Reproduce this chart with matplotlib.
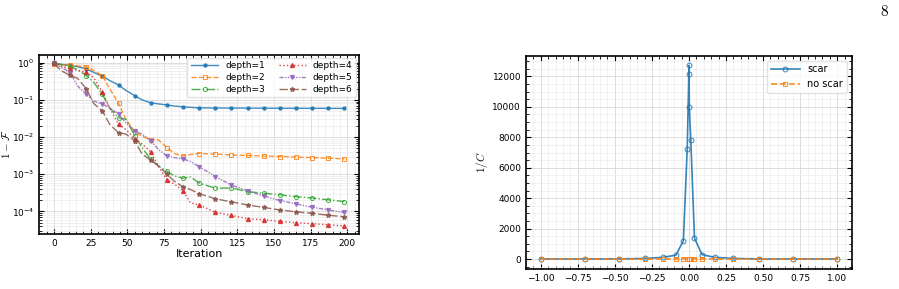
import numpy as np
import matplotlib.pyplot as plt
from matplotlib.ticker import MultipleLocator, AutoMinorLocator

# iteraciones donde se leyeron los valores
iters = [0, 5, 11, 16, 22, 27, 33, 38, 44, 49, 55, 60, 66, 71, 77, 82, 88, 93, 99,
         110, 121, 132, 143, 154, 165, 176, 187, 198]

depth1 = [0.97, 0.9, 0.85, 0.78, 0.68, 0.55, 0.43, 0.33, 0.25, 0.18, 0.13, 0.1, 0.083, 0.078,
          0.073, 0.068, 0.065, 0.063, 0.061, 0.0605, 0.0603, 0.06, 0.0598, 0.0596, 0.0594,
          0.0593, 0.0592, 0.059]
depth2 = [0.92, 0.88, 0.85, 0.82, 0.78, 0.62, 0.44, 0.2, 0.08, 0.03, 0.014, 0.0105, 0.0085,
          0.0085, 0.0052, 0.0036, 0.0031, 0.0034, 0.0036, 0.0035, 0.0033, 0.0032, 0.0031,
          0.003, 0.0029, 0.0028, 0.0027, 0.0026]
depth3 = [0.95, 0.88, 0.78, 0.65, 0.45, 0.3, 0.14, 0.06, 0.033, 0.03, 0.011, 0.0052, 0.0025,
          0.0017, 0.0012, 9e-4, 7.9e-4, 8.5e-4, 5.8e-4, 4.2e-4, 4.3e-4, 3.4e-4, 3.1e-4,
          2.8e-4, 2.5e-4, 2.3e-4, 2.05e-4, 1.85e-4]
depth4 = [0.95, 0.8, 0.68, 0.62, 0.55, 0.4, 0.16, 0.06, 0.022, 0.016, 0.009, 0.0065, 0.004,
          0.0017, 7e-4, 5.5e-4, 3.6e-4, 1.7e-4, 1.5e-4, 9.5e-5, 7.8e-5, 6.4e-5, 6e-5,
          5.4e-5, 5e-5, 4.7e-5, 4.4e-5, 4.1e-5]
depth5 = [0.95, 0.75, 0.54, 0.24, 0.14, 0.094, 0.076, 0.062, 0.041, 0.024, 0.0146, 0.012,
          0.008, 0.0047, 0.0031, 0.0028, 0.0026, 0.0022, 0.0016, 8.7e-4, 5.1e-4, 3.6e-4,
          2.6e-4, 1.96e-4, 1.6e-4, 1.3e-4, 1.1e-4, 9.4e-5]
depth6 = [0.95, 0.6, 0.46, 0.38, 0.2, 0.08, 0.05, 0.022, 0.013, 0.012, 0.008, 0.0035, 0.0024,
          0.0017, 0.001, 6.5e-4, 4.6e-4, 3.9e-4, 3e-4, 2.2e-4, 1.8e-4, 1.5e-4, 1.28e-4,
          1.1e-4, 9.8e-5, 8.9e-5, 7.9e-5, 7.2e-5]
depth_labels = ['depth=1', 'depth=2', 'depth=3', 'depth=4', 'depth=5', 'depth=6']

# datos del panel derecho
e_sc = [-1.0, -0.7, -0.47, -0.3, -0.175, -0.088, -0.038, -0.012, -0.001, 0.0, 0.002,
        0.012, 0.037, 0.088, 0.175, 0.3, 0.47, 0.7, 1.0]
scar = [3, 5, 10, 40, 110, 260, 1200, 7240, 12180, 12725, 9990, 7850, 1380, 290, 110, 40,
        10, 5, 3]
no_scar = [1, 1, 2, 3, 5, 8, 12, 15, 16, 16, 16, 15, 12, 8, 5, 3, 2, 1, 1]

marks = [i for i, t in enumerate(iters) if t % 11 == 0]

fig = plt.figure(figsize=(8.99, 2.89), dpi=100)
ax1 = fig.add_axes([0.0439, 0.1903, 0.3554, 0.6194])
ax2 = fig.add_axes([0.5851, 0.0702, 0.3626, 0.737])

styles = [
    dict(ls='-', marker='o', ms=2.2),
    dict(ls='--', marker='s', ms=3, mfc='none', mew=0.7),
    dict(ls='-.', marker='o', ms=3, mfc='none', mew=0.7),
    dict(ls=':', marker='^', ms=2.8),
    dict(ls=(0, (3, 1, 1, 1, 1, 1)), marker='v', ms=2.8),
    dict(ls=(0, (6, 2)), marker='*', ms=3.5),
]
series = [depth1, depth2, depth3, depth4, depth5, depth6]
for i, (vals, st) in enumerate(zip(series, styles)):
    ax1.plot(iters, vals, color=f'C{i}', lw=1.0, markevery=marks, label=depth_labels[i],
             alpha=0.85, **st)

ax1.set_yscale('log')
ax1.xaxis.set_major_locator(MultipleLocator(25))
ax1.xaxis.set_minor_locator(AutoMinorLocator(5))
ax1.set_xlabel('Iteration', fontsize=8, labelpad=1)
ax1.set_ylabel(r'$1-\mathcal{F}$', fontsize=8, math_fontfamily='cm')
ax1.yaxis.set_label_coords(-0.085, 0.5)
ax1.legend(ncol=2, loc='upper right', fontsize=6.5, handlelength=3, columnspacing=1.5,
           labelspacing=0.3, borderaxespad=0.3, edgecolor='#dddddd')

# panel derecho
ax2.plot(e_sc, scar, color='C0', lw=1.2, marker='o', ms=3.5, mfc='none', mew=0.7,
         label='scar', alpha=0.9)
ax2.plot(e_sc, no_scar, color='C1', lw=1.2, ls='--', marker='s', ms=3.5, mfc='none',
         mew=0.7, label='no scar', alpha=0.9)
ax2.xaxis.set_major_locator(MultipleLocator(0.25))
ax2.xaxis.set_minor_locator(AutoMinorLocator(5))
ax2.yaxis.set_major_locator(MultipleLocator(2000))
ax2.yaxis.set_minor_locator(AutoMinorLocator(4))
ax2.set_xlabel(r'$E_{sc}$', fontsize=8, math_fontfamily='cm')
ax2.set_ylabel(r'$1/C$', fontsize=8, math_fontfamily='cm')
ax2.yaxis.set_label_coords(-0.11, 0.5)
ax2.legend(loc='upper right', fontsize=7, handlelength=3, edgecolor='#dddddd')

for ax in (ax1, ax2):
    ax.tick_params(which='both', direction='in', top=True, right=True, labelsize=6.5)
    ax.tick_params(which='major', length=3.5, width=0.8)
    ax.tick_params(which='minor', length=2, width=0.6)
    ax.grid(which='major', color='#d8d8d8', lw=0.6)
    ax.grid(which='minor', color='#ececec', lw=0.5)
    for s in ax.spines.values():
        s.set_linewidth(1.2)

fig.text(885 / 899, 1 - 12 / 289, r'$\mathrm{8}$', ha='center', va='center',
         fontsize=11, math_fontfamily='cm')

plt.savefig('out.png', dpi=100)
